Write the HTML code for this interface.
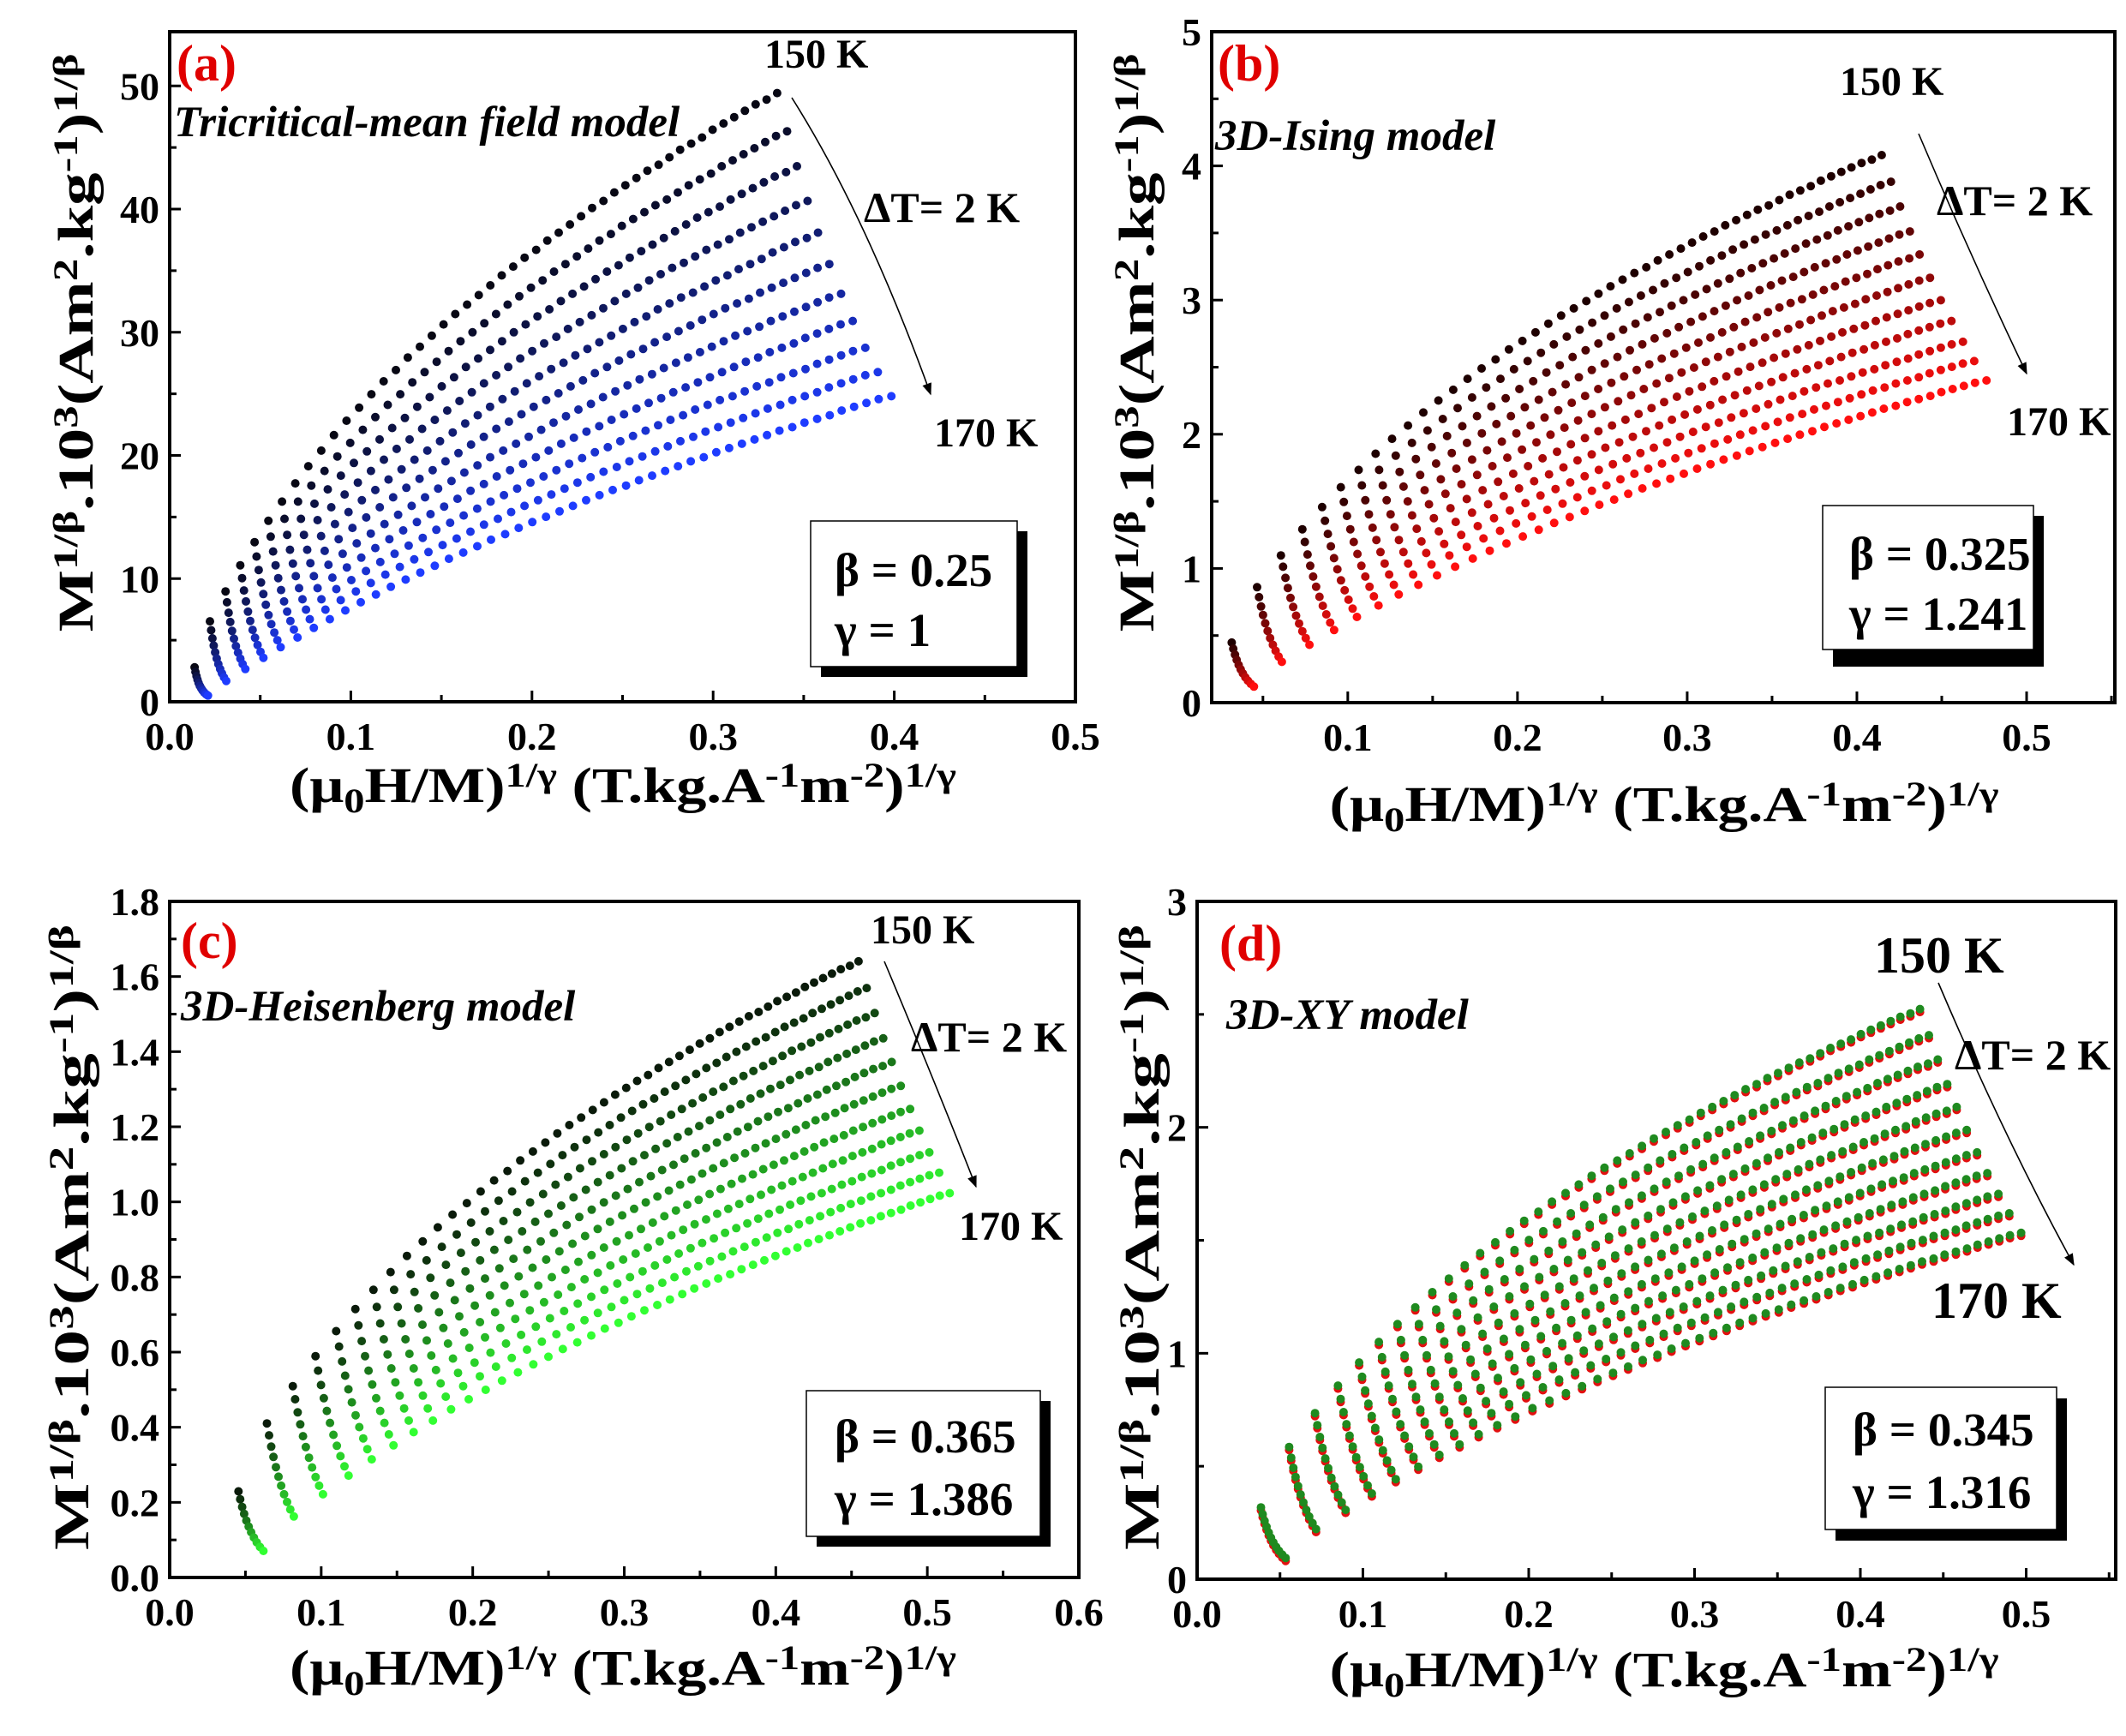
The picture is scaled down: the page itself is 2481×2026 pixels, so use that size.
<!DOCTYPE html>
<html><head><meta charset="utf-8">
<style>
html,body{margin:0;padding:0;background:#fff;}
svg{display:block;font-family:"Liberation Serif",serif;font-weight:bold;}
.tk{font-size:46px;}
.ttl{font-size:58px;}
.lab{font-size:60px;fill:#e00000;}
.mdl{font-size:51px;font-style:italic;}
.tmp{font-size:48px;}
.dt{font-size:50px;}
.lg{font-size:55px;}
</style></head>
<body>
<svg id="fig" width="2481" height="2026" viewBox="0 0 2481 2026">
<defs>
<marker id="ah" viewBox="0 0 10 10" refX="9" refY="5" markerWidth="14" markerHeight="14" markerUnits="userSpaceOnUse" orient="auto"><path d="M0,1 L10,5 L0,9 Z" fill="#000"/></marker>
</defs>
<rect width="2481" height="2026" fill="#fff"/>
<g id="plots"></g>

<!-- Panel a annotations -->
<text class="lab" x="206" y="94">(a)</text>
<text class="mdl" x="203" y="159">Tricritical-mean field model</text>
<text class="tmp" x="892" y="79">150 K</text>
<text class="dt" x="1008" y="259">ΔT= 2 K</text>
<text class="tmp" x="1090" y="521">170 K</text>
<path d="M924,114 Q1010,250 1086,460" fill="none" stroke="#000" stroke-width="1.6" marker-end="url(#ah)"/>
<g>
<rect x="958" y="620" width="241" height="170" fill="#000"/>
<rect x="946" y="608" width="241" height="170" fill="#fff" stroke="#000" stroke-width="1.5"/>
<text class="lg" x="974" y="684">β = 0.25</text>
<text class="lg" x="974" y="754">γ = 1</text>
</g>
<text class="ttl" x="727" y="936" text-anchor="middle" textLength="778" lengthAdjust="spacingAndGlyphs">(μ<tspan baseline-shift="-30%" font-size="40">0</tspan>H/M)<tspan baseline-shift="45%" font-size="40">1/γ</tspan> (T.kg.A<tspan baseline-shift="45%" font-size="40">-1</tspan>m<tspan baseline-shift="45%" font-size="40">-2</tspan>)<tspan baseline-shift="45%" font-size="40">1/γ</tspan></text>
<text class="ttl" transform="translate(108,400) rotate(-90)" text-anchor="middle" textLength="675" lengthAdjust="spacingAndGlyphs">M<tspan baseline-shift="45%" font-size="40">1/β</tspan>.10<tspan baseline-shift="45%" font-size="40">3</tspan>(Am<tspan baseline-shift="45%" font-size="40">2</tspan>.kg<tspan baseline-shift="45%" font-size="40">-1</tspan>)<tspan baseline-shift="45%" font-size="40">1/β</tspan></text>

<!-- Panel b annotations -->
<text class="lab" x="1421" y="94">(b)</text>
<text class="mdl" x="1418" y="175">3D-Ising model</text>
<text class="tmp" x="2147" y="111">150 K</text>
<text class="dt" x="2260" y="251">ΔT= 2 K</text>
<text class="tmp" x="2342" y="508">170 K</text>
<path d="M2239,156 Q2300,300 2365,436" fill="none" stroke="#000" stroke-width="1.6" marker-end="url(#ah)"/>
<g>
<rect x="2139" y="602" width="246" height="176" fill="#000"/>
<rect x="2127" y="590" width="246" height="168" fill="#fff" stroke="#000" stroke-width="1.5"/>
<text class="lg" x="2158" y="665">β = 0.325</text>
<text class="lg" x="2158" y="735">γ = 1.241</text>
</g>
<text class="ttl" x="1942" y="958" text-anchor="middle" textLength="781" lengthAdjust="spacingAndGlyphs">(μ<tspan baseline-shift="-30%" font-size="40">0</tspan>H/M)<tspan baseline-shift="45%" font-size="40">1/γ</tspan> (T.kg.A<tspan baseline-shift="45%" font-size="40">-1</tspan>m<tspan baseline-shift="45%" font-size="40">-2</tspan>)<tspan baseline-shift="45%" font-size="40">1/γ</tspan></text>
<text class="ttl" transform="translate(1346,400) rotate(-90)" text-anchor="middle" textLength="675" lengthAdjust="spacingAndGlyphs">M<tspan baseline-shift="45%" font-size="40">1/β</tspan>.10<tspan baseline-shift="45%" font-size="40">3</tspan>(Am<tspan baseline-shift="45%" font-size="40">2</tspan>.kg<tspan baseline-shift="45%" font-size="40">-1</tspan>)<tspan baseline-shift="45%" font-size="40">1/β</tspan></text>

<!-- Panel c annotations -->
<text class="lab" x="211" y="1118">(c)</text>
<text class="mdl" x="211" y="1191">3D-Heisenberg model</text>
<text class="tmp" x="1016" y="1101">150 K</text>
<text class="dt" x="1063" y="1227">ΔT= 2 K</text>
<text class="tmp" x="1119" y="1447">170 K</text>
<path d="M1032,1122 Q1090,1260 1139,1385" fill="none" stroke="#000" stroke-width="1.6" marker-end="url(#ah)"/>
<g>
<rect x="953" y="1635" width="273" height="170" fill="#000"/>
<rect x="941" y="1623" width="273" height="170" fill="#fff" stroke="#000" stroke-width="1.5"/>
<text class="lg" x="974" y="1695">β = 0.365</text>
<text class="lg" x="974" y="1768">γ = 1.386</text>
</g>
<text class="ttl" x="727" y="1966" text-anchor="middle" textLength="778" lengthAdjust="spacingAndGlyphs">(μ<tspan baseline-shift="-30%" font-size="40">0</tspan>H/M)<tspan baseline-shift="45%" font-size="40">1/γ</tspan> (T.kg.A<tspan baseline-shift="45%" font-size="40">-1</tspan>m<tspan baseline-shift="45%" font-size="40">-2</tspan>)<tspan baseline-shift="45%" font-size="40">1/γ</tspan></text>
<text class="ttl" transform="translate(103,1444) rotate(-90)" text-anchor="middle" textLength="730" lengthAdjust="spacingAndGlyphs">M<tspan baseline-shift="45%" font-size="40">1/β</tspan>.10<tspan baseline-shift="45%" font-size="40">3</tspan>(Am<tspan baseline-shift="45%" font-size="40">2</tspan>.kg<tspan baseline-shift="45%" font-size="40">-1</tspan>)<tspan baseline-shift="45%" font-size="40">1/β</tspan></text>

<!-- Panel d annotations -->
<text class="lab" x="1423" y="1121">(d)</text>
<text class="mdl" x="1431" y="1201">3D-XY model</text>
<text class="tmp" x="2187" y="1135" style="font-size:60px">150 K</text>
<text class="dt" x="2281" y="1248">ΔT= 2 K</text>
<text class="tmp" x="2254" y="1538" style="font-size:60px">170 K</text>
<path d="M2262,1147 Q2340,1330 2420,1476" fill="none" stroke="#000" stroke-width="1.6" marker-end="url(#ah)"/>
<g>
<rect x="2142" y="1632" width="270" height="166" fill="#000"/>
<rect x="2130" y="1619" width="270" height="166" fill="#fff" stroke="#000" stroke-width="1.5"/>
<text class="lg" x="2162" y="1687">β = 0.345</text>
<text class="lg" x="2162" y="1760">γ = 1.316</text>
</g>
<text class="ttl" x="1942" y="1968" text-anchor="middle" textLength="781" lengthAdjust="spacingAndGlyphs">(μ<tspan baseline-shift="-30%" font-size="40">0</tspan>H/M)<tspan baseline-shift="45%" font-size="40">1/γ</tspan> (T.kg.A<tspan baseline-shift="45%" font-size="40">-1</tspan>m<tspan baseline-shift="45%" font-size="40">-2</tspan>)<tspan baseline-shift="45%" font-size="40">1/γ</tspan></text>
<text class="ttl" transform="translate(1352,1444) rotate(-90)" text-anchor="middle" textLength="730" lengthAdjust="spacingAndGlyphs">M<tspan baseline-shift="45%" font-size="40">1/β</tspan>.10<tspan baseline-shift="45%" font-size="40">3</tspan>(Am<tspan baseline-shift="45%" font-size="40">2</tspan>.kg<tspan baseline-shift="45%" font-size="40">-1</tspan>)<tspan baseline-shift="45%" font-size="40">1/β</tspan></text>
</svg>

<script>
// ---- data: applied field (T) and magnetization (Am2/kg) per isotherm ----
const fieldH = [0.1,0.2,0.3,0.4,0.5,0.6,0.7,0.8,0.9,1.0,1.1,1.2,1.3,1.4,1.5,1.6,1.7,1.8,1.9,2.0,2.1,2.2,2.3,2.4,2.5,2.6,2.7,2.8,2.9,3.0,3.1,3.2,3.3,3.4,3.5,3.6,3.7,3.8,3.9,4.0,4.1,4.2,4.3,4.4,4.5,4.6,4.7,4.8,4.9,5.0];
const temps = [150,152,154,156,158,160,162,164,166,168,170];
const M150 = [7.27,8.99,9.73,10.26,10.67,11.01,11.29,11.54,11.76,11.95,12.13,12.29,12.43,12.57,12.70,12.81,12.93,13.03,13.13,13.23,13.32,13.40,13.48,13.56,13.64,13.71,13.78,13.84,13.91,13.97,14.03,14.09,14.15,14.20,14.26,14.31,14.36,14.41,14.45,14.50,14.55,14.59,14.63,14.68,14.72,14.76,14.80,14.84,14.87,14.91];
const M152 = [7.02,8.73,9.48,10.01,10.42,10.76,11.04,11.29,11.51,11.70,11.88,12.04,12.19,12.33,12.46,12.57,12.69,12.79,12.89,12.99,13.08,13.16,13.24,13.32,13.40,13.47,13.54,13.60,13.67,13.73,13.79,13.85,13.91,13.96,14.02,14.07,14.12,14.17,14.21,14.26,14.31,14.35,14.39,14.44,14.48,14.52,14.56,14.60,14.64,14.67];
const M154 = [6.76,8.47,9.22,9.75,10.17,10.51,10.79,11.04,11.26,11.46,11.64,11.80,11.94,12.08,12.21,12.32,12.44,12.54,12.65,12.74,12.84,12.92,13.00,13.08,13.16,13.23,13.30,13.36,13.43,13.49,13.55,13.61,13.67,13.72,13.78,13.83,13.88,13.93,13.98,14.03,14.08,14.12,14.16,14.21,14.25,14.29,14.33,14.37,14.40,14.44];
const M156 = [6.51,8.22,8.97,9.50,9.92,10.26,10.54,10.79,11.02,11.21,11.39,11.55,11.70,11.84,11.97,12.08,12.20,12.30,12.40,12.50,12.59,12.68,12.76,12.84,12.92,12.99,13.06,13.12,13.19,13.25,13.31,13.37,13.43,13.49,13.54,13.60,13.65,13.70,13.74,13.79,13.84,13.88,13.92,13.97,14.01,14.05,14.09,14.13,14.17,14.20];
const M158 = [6.25,7.96,8.71,9.25,9.67,10.01,10.29,10.54,10.77,10.96,11.14,11.31,11.45,11.59,11.72,11.84,11.95,12.06,12.16,12.26,12.35,12.44,12.52,12.60,12.68,12.75,12.82,12.88,12.95,13.01,13.07,13.13,13.19,13.25,13.30,13.36,13.41,13.46,13.50,13.55,13.60,13.64,13.69,13.73,13.77,13.82,13.86,13.90,13.93,13.97];
const M160 = [6.00,7.70,8.46,9.00,9.42,9.76,10.05,10.30,10.52,10.72,10.90,11.06,11.21,11.35,11.48,11.60,11.71,11.82,11.92,12.02,12.11,12.20,12.28,12.36,12.44,12.51,12.58,12.65,12.71,12.78,12.84,12.90,12.96,13.01,13.07,13.12,13.17,13.22,13.27,13.32,13.37,13.41,13.45,13.50,13.54,13.58,13.62,13.66,13.70,13.73];
const M162 = [5.75,7.44,8.20,8.74,9.16,9.50,9.80,10.05,10.27,10.47,10.65,10.81,10.96,11.10,11.23,11.35,11.47,11.57,11.68,11.77,11.87,11.95,12.03,12.11,12.19,12.27,12.34,12.41,12.47,12.54,12.60,12.66,12.72,12.77,12.83,12.88,12.93,12.98,13.03,13.08,13.13,13.17,13.21,13.26,13.30,13.34,13.38,13.42,13.46,13.49];
const M164 = [5.49,7.18,7.95,8.49,8.91,9.25,9.55,9.80,10.02,10.22,10.40,10.57,10.72,10.86,10.99,11.11,11.22,11.33,11.44,11.53,11.63,11.71,11.79,11.87,11.95,12.03,12.10,12.17,12.23,12.30,12.36,12.42,12.48,12.53,12.59,12.64,12.69,12.74,12.79,12.84,12.89,12.93,12.98,13.02,13.06,13.11,13.15,13.19,13.23,13.26];
const M166 = [5.24,6.93,7.69,8.24,8.66,9.00,9.30,9.55,9.78,9.97,10.15,10.32,10.47,10.61,10.74,10.87,10.98,11.09,11.19,11.29,11.38,11.47,11.55,11.63,11.71,11.79,11.86,11.93,11.99,12.06,12.12,12.18,12.24,12.30,12.35,12.41,12.46,12.51,12.55,12.60,12.65,12.69,12.74,12.78,12.82,12.87,12.91,12.95,12.99,13.02];
const M168 = [4.98,6.67,7.44,7.98,8.41,8.75,9.05,9.30,9.53,9.73,9.91,10.08,10.23,10.37,10.50,10.62,10.73,10.84,10.95,11.04,11.14,11.23,11.31,11.39,11.47,11.55,11.62,11.69,11.75,11.82,11.88,11.94,12.00,12.06,12.11,12.17,12.22,12.27,12.32,12.37,12.42,12.46,12.51,12.55,12.59,12.64,12.68,12.72,12.76,12.79];
const M170 = [4.73,6.41,7.18,7.73,8.16,8.50,8.80,9.05,9.28,9.48,9.66,9.83,9.98,10.12,10.25,10.38,10.49,10.60,10.71,10.80,10.90,10.99,11.07,11.15,11.23,11.31,11.38,11.45,11.51,11.58,11.64,11.70,11.76,11.82,11.87,11.93,11.98,12.03,12.08,12.13,12.18,12.22,12.27,12.31,12.35,12.40,12.44,12.48,12.52,12.55];
const isotherms = [M150,M152,M154,M156,M158,M160,M162,M164,M166,M168,M170];
// critical exponents per panel (a,b,c,d)
const betaValues = [0.25, 0.325, 0.365, 0.345];
const gammaValues = [1, 1.241, 1.386, 1.316];
// tick labels
const xTicksA = ["0.0","0.1","0.2","0.3","0.4","0.5"];
const yTicksA = ["0","10","20","30","40","50"];
const xTicksB = ["0.1","0.2","0.3","0.4","0.5"];
const yTicksB = ["0","1","2","3","4","5"];
const xTicksC = ["0.0","0.1","0.2","0.3","0.4","0.5","0.6"];
const yTicksC = ["0.0","0.2","0.4","0.6","0.8","1.0","1.2","1.4","1.6","1.8"];
const xTicksD = ["0.0","0.1","0.2","0.3","0.4","0.5"];
const yTicksD = ["0","1","2","3"];

// ---- layout (not data) ----
const panels = [
 {id:'a',L:198,R:1255,T:37,B:819,x0:0,x1:0.5,y0:0,y1:54.4,xt:xTicksA,yt:yTicksA,xm:0.05,ym:5,c0:[8,8,20],c1:[30,60,255]},
 {id:'b',L:1414,R:2468,T:37,B:820,x0:0.0198,x1:0.552,y0:0,y1:5,xt:xTicksB,yt:yTicksB,xm:0.05,ym:0.5,c0:[30,0,0],c1:[255,15,15]},
 {id:'c',L:198,R:1259,T:1052,B:1841,x0:0,x1:0.6,y0:0,y1:1.8,xt:xTicksC,yt:yTicksC,xm:0.05,ym:0.1,c0:[10,26,10],c1:[50,255,50]},
 {id:'d',L:1397,R:2469,T:1052,B:1843,x0:0,x1:0.554,y0:0,y1:3,xt:xTicksD,yt:yTicksD,xm:0.05,ym:0.5,c0:null,c1:null}
];
const NS='http://www.w3.org/2000/svg';
const root=document.getElementById('plots');
function mk(tag,attrs,parent){const e=document.createElementNS(NS,tag);for(const k in attrs)e.setAttribute(k,attrs[k]);parent.appendChild(e);return e;}

panels.forEach((p,pi)=>{
  const g=mk('g',{},root);
  
  
  const sx=v=>p.L+(v-p.x0)/(p.x1-p.x0)*(p.R-p.L);
  const sy=v=>p.B-(v-p.y0)/(p.y1-p.y0)*(p.B-p.T);
  const dots=mk('g',{},g);
  
  
  const beta=betaValues[pi], gamma=gammaValues[pi];
  isotherms.forEach((Ms,k)=>{
    const sg=mk('g',{},dots);
    
    
    const f=k/(isotherms.length-1);
    let col='#1a8a1a';
    if(p.c0){col='rgb('+p.c0.map((c,i)=>Math.round(c+(p.c1[i]-c)*f)).join(',')+')';}
    Ms.forEach((M,j)=>{
      const xv=Math.pow(fieldH[j]/M,1/gamma);
      const yv=Math.pow(M,1/beta)/1000;
      const cx=sx(xv), cy=sy(yv);
      if(p.id==='d'){
        const r=mk('circle',{cx:cx.toFixed(1),cy:(cy+2.5).toFixed(1),r:5,fill:'#e21010'},sg);
        
        
        const c=mk('circle',{cx:cx.toFixed(1),cy:(cy-1).toFixed(1),r:5,fill:'#1f8a1f'},sg);
        
        
      } else {
        const c=mk('circle',{cx:cx.toFixed(1),cy:cy.toFixed(1),r:5,fill:col},sg);
        
        
      }
    });
  });
  const fr=mk('rect',{x:p.L,y:p.T,width:p.R-p.L,height:p.B-p.T,fill:'none',stroke:'#000','stroke-width':4},g);
  
  
  const xa=mk('g',{},g);
  
  
  for(let v=Math.ceil(p.x0/p.xm-1e-6)*p.xm; v<=p.x1+1e-9; v+=p.xm){
    const X=sx(v); const major=Math.abs(v/0.1-Math.round(v/0.1))<1e-6;
    mk('line',{x1:X,x2:X,y1:p.B,y2:p.B-(major?13:8),stroke:'#000','stroke-width':3},xa);
  }
  p.xt.forEach(s=>{
    const t=mk('text',{x:sx(parseFloat(s)),y:p.B+56,'text-anchor':'middle',class:'tk'},xa);
    t.textContent=s;
    
    
  });
  const ya=mk('g',{},g);
  
  
  const ymaj=parseFloat(p.yt[1])-parseFloat(p.yt[0]);
  for(let v=0; v<=p.y1+1e-9; v+=p.ym){
    const Y=sy(v); const major=Math.abs(v/ymaj-Math.round(v/ymaj))<1e-6;
    mk('line',{x1:p.L,x2:p.L+(major?13:8),y1:Y,y2:Y,stroke:'#000','stroke-width':3},ya);
  }
  p.yt.forEach(s=>{
    const t=mk('text',{x:p.L-12,y:sy(parseFloat(s))+16,'text-anchor':'end',class:'tk'},ya);
    t.textContent=s;
    
    
  });
});
</script>
</body></html>
